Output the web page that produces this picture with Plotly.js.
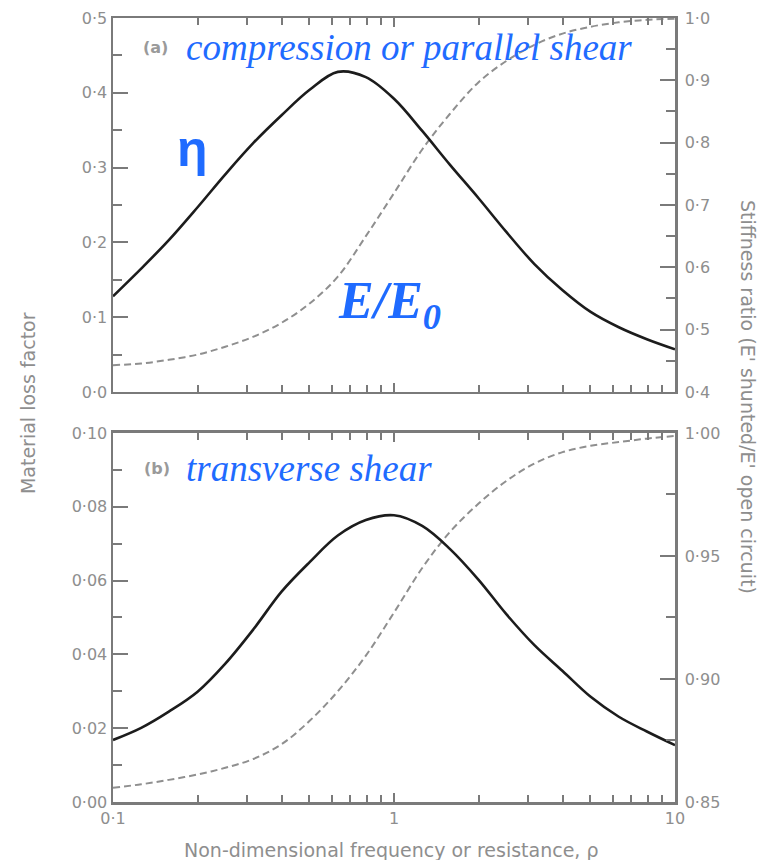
<!DOCTYPE html>
<html>
<head>
<meta charset="utf-8">
<script src="https://cdn.plot.ly/plotly-3.0.1.min.js"></script>
<style>
  html, body { margin: 0; padding: 0; background: #ffffff; }
  #chart { width: 758px; height: 860px; }
</style>
</head>
<body>
<div id="chart"></div>
<script>
// Non-dimensional frequency (or resistance) rho, ten points per decade
const rho = [0.1, 0.126, 0.158, 0.2, 0.251, 0.316, 0.398, 0.501, 0.631, 0.794, 1.0,
             1.26, 1.58, 2.0, 2.51, 3.16, 3.98, 5.01, 6.31, 7.94, 10];

// (a) compression or parallel shear
const etaA = [0.128, 0.165, 0.203, 0.247, 0.291, 0.333, 0.370, 0.404, 0.428, 0.421, 0.392,
              0.349, 0.304, 0.259, 0.214, 0.171, 0.136, 0.107, 0.0865, 0.0705, 0.057];
const stiffA = [0.443, 0.4457, 0.4516, 0.460, 0.4726, 0.4887, 0.511, 0.542, 0.585, 0.650, 0.719,
                0.789, 0.846, 0.897, 0.931, 0.957, 0.975, 0.986, 0.993, 0.997, 0.999];

// (b) transverse shear
const etaB = [0.0168, 0.0201, 0.0245, 0.0299, 0.0375, 0.0468, 0.0570, 0.0650, 0.0722, 0.0764, 0.0777,
              0.0748, 0.0686, 0.0602, 0.0509, 0.0425, 0.0355, 0.0285, 0.0231, 0.0191, 0.0154];
const stiffB = [0.8558, 0.8572, 0.8590, 0.8612, 0.8639, 0.8675, 0.8735, 0.8830, 0.8950, 0.9095, 0.9270,
                0.9451, 0.9597, 0.9713, 0.9805, 0.9876, 0.9922, 0.9948, 0.9963, 0.9977, 0.9988];

// Tick values and labels (decimal point printed as a raised dot)
const xMajor = [0.1, 1, 10];
const xMajorText = ['0·1', '1', '10'];
const xMinor = [0.2, 0.3, 0.4, 0.5, 0.6, 0.7, 0.8, 0.9, 2, 3, 4, 5, 6, 7, 8, 9];

const etaATicks = [0, 0.1, 0.2, 0.3, 0.4, 0.5];
const etaATickText = ['0·0', '0·1', '0·2', '0·3', '0·4', '0·5'];
const etaAMinor = [0.05, 0.15, 0.25, 0.35, 0.45];

const stiffATicks = [0.4, 0.5, 0.6, 0.7, 0.8, 0.9, 1.0];
const stiffATickText = ['0·4', '0·5', '0·6', '0·7', '0·8', '0·9', '1·0'];
const stiffAMinor = [0.45, 0.55, 0.65, 0.75, 0.85, 0.95];

const etaBTicks = [0, 0.02, 0.04, 0.06, 0.08, 0.10];
const etaBTickText = ['0·00', '0·02', '0·04', '0·06', '0·08', '0·10'];
const etaBMinor = [0.01, 0.03, 0.05, 0.07, 0.09];

const stiffBTicks = [0.85, 0.90, 0.95, 1.00];
const stiffBTickText = ['0·85', '0·90', '0·95', '1·00'];
const stiffBMinor = [0.875, 0.925, 0.975];

const axisGrey = '#7a7a7a';
const labelGrey = '#8e8e8e';
const blue = '#1f6bff';
const tickFont = { family: 'DejaVu Sans', size: 16, color: labelGrey };
const titleFont = { family: 'DejaVu Sans', size: 19, color: labelGrey };

const solidLine = { color: '#1c1c1c', width: 2.6, shape: 'spline', smoothing: 1.0 };
const dashLine = { color: '#8f8f8f', width: 2, dash: '7px,4px', shape: 'spline', smoothing: 1.0 };

// dashed stiffness curves sit on the base axes, loss factor curves on the overlays (drawn above)
const traces = [
  { x: rho, y: stiffA, xaxis: 'x', yaxis: 'y', mode: 'lines', line: dashLine, hoverinfo: 'skip' },
  { x: rho, y: etaA, xaxis: 'x', yaxis: 'y3', mode: 'lines', line: solidLine, hoverinfo: 'skip' },
  { x: rho, y: stiffB, xaxis: 'x2', yaxis: 'y2', mode: 'lines', line: dashLine, hoverinfo: 'skip' },
  { x: rho, y: etaB, xaxis: 'x2', yaxis: 'y4', mode: 'lines', line: solidLine, hoverinfo: 'skip' }
];

function xAxis(anchor, labels) {
  return {
    type: 'log', range: [-1, 1], anchor: anchor,
    showgrid: false, zeroline: false,
    showline: true, linecolor: axisGrey, linewidth: 2.5, mirror: 'ticks',
    ticks: 'inside', ticklen: 9, tickwidth: 2, tickcolor: axisGrey,
    tickmode: 'array', tickvals: xMajor,
    ticktext: labels ? xMajorText : xMajor.map(() => ''),
    tickfont: tickFont,
    minor: { tickmode: 'array', tickvals: xMinor, ticks: 'inside', ticklen: 7, tickwidth: 2, tickcolor: axisGrey }
  };
}

function yAxis(opts, minorVals) {
  return Object.assign({
    showgrid: false, zeroline: false,
    showline: true, linecolor: axisGrey, linewidth: 2.5,
    ticks: 'inside', ticklen: 15, tickwidth: 2, tickcolor: axisGrey,
    tickmode: 'array', tickfont: tickFont,
    minor: { tickmode: 'array', tickvals: minorVals, ticks: 'inside', ticklen: 9, tickwidth: 2, tickcolor: axisGrey }
  }, opts);
}

const layout = {
  width: 758, height: 860,
  margin: { l: 113, r: 83, t: 18, b: 58 },
  paper_bgcolor: '#ffffff', plot_bgcolor: '#ffffff',
  showlegend: false,
  font: { family: 'DejaVu Sans', color: labelGrey },
  xaxis: xAxis('y', false),
  xaxis2: xAxis('y2', true),
  // stiffness ratio scales (right side)
  yaxis: yAxis({ domain: [0.523, 1], anchor: 'x', side: 'right', range: [0.4, 1.0],
                 tickvals: stiffATicks, ticktext: stiffATickText, ticklabelstandoff: 4 }, stiffAMinor),
  yaxis2: yAxis({ domain: [0, 0.4707], anchor: 'x2', side: 'right', range: [0.85, 1.0],
                  tickvals: stiffBTicks, ticktext: stiffBTickText, ticklabelstandoff: 4 }, stiffBMinor),
  // loss factor scales (left side)
  yaxis3: yAxis({ overlaying: 'y', anchor: 'x', side: 'left', range: [0, 0.5],
                  tickvals: etaATicks, ticktext: etaATickText }, etaAMinor),
  yaxis4: yAxis({ overlaying: 'y2', anchor: 'x2', side: 'left', range: [0, 0.10],
                  tickvals: etaBTicks, ticktext: etaBTickText }, etaBMinor),
  annotations: [
    { xref: 'paper', yref: 'paper', x: 0.0765, y: 0.963, xanchor: 'center', yanchor: 'middle',
      text: '<b>(a)</b>', showarrow: false,
      font: { family: 'DejaVu Sans', size: 16, color: '#9a9a9a' } },
    { xref: 'paper', yref: 'paper', x: 0.1263, y: 0.963, xanchor: 'left', yanchor: 'middle',
      text: '<i>compression or parallel shear</i>', showarrow: false,
      font: { family: 'Liberation Serif', size: 37, color: blue } },
    { xref: 'paper', yref: 'paper', x: 0.1406, y: 0.833, xanchor: 'center', yanchor: 'middle',
      text: '<b>η</b>', showarrow: false,
      font: { family: 'Liberation Sans', size: 50, color: blue } },
    { xref: 'paper', yref: 'paper', x: 0.397, y: 0.634, xanchor: 'left', yanchor: 'middle',
      text: '<b><i>E/E<sub>0</sub></i></b>', showarrow: false,
      font: { family: 'Liberation Serif', size: 52, color: blue } },
    { xref: 'paper', yref: 'paper', x: 0.0783, y: 0.426, xanchor: 'center', yanchor: 'middle',
      text: '<b>(b)</b>', showarrow: false,
      font: { family: 'DejaVu Sans', size: 16, color: '#9a9a9a' } },
    { xref: 'paper', yref: 'paper', x: 0.1263, y: 0.426, xanchor: 'left', yanchor: 'middle',
      text: '<i>transverse shear</i>', showarrow: false,
      font: { family: 'Liberation Serif', size: 37, color: blue } },
    { xref: 'paper', yref: 'paper', x: -0.151, y: 0.509, xanchor: 'center', yanchor: 'middle',
      textangle: -90, text: 'Material loss factor', showarrow: false, font: titleFont },
    { xref: 'paper', yref: 'paper', x: 1.13, y: 0.5166, xanchor: 'center', yanchor: 'middle',
      textangle: 90, text: "Stiffness ratio (E' shunted/E' open circuit)", showarrow: false, font: titleFont },
    { xref: 'paper', yref: 'paper', x: 0.4947, y: -0.0612, xanchor: 'center', yanchor: 'middle',
      text: 'Non-dimensional frequency or resistance, ρ', showarrow: false, font: titleFont }
  ]
};

Plotly.newPlot('chart', traces, layout, { staticPlot: true, displayModeBar: false });
</script>
</body>
</html>
